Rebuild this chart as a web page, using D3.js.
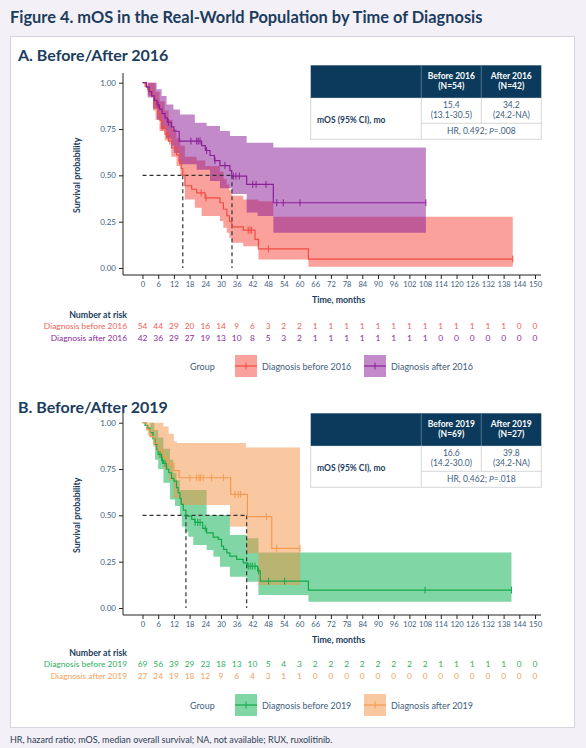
<!DOCTYPE html>
<html><head><meta charset="utf-8">
<script src="https://cdn.jsdelivr.net/npm/d3@7"></script>
<style>body{margin:0;background:#f4f0f7;}svg{display:block;font-family:Lato,"Noto Sans",sans-serif;}</style>
</head><body>
<svg id="c" width="586" height="748"></svg>
<script>
// ---------- DATA ----------
const timeTicks = d3.range(0, 151, 6);
const yTicks = [0, 0.25, 0.5, 0.75, 1];

// Panel A: before/after 2016
const before2016Steps = [[0,1],[1,0.981],[2,0.963],[3,0.944],[3.5,0.926],[4.5,0.889],[5,0.87],[6,0.833],[6.7,0.796],[7.5,0.759],[8.6,0.722],[9.9,0.685],[11.1,0.648],[13,0.611],[14,0.574],[14.8,0.537],[15.4,0.5],[16.2,0.444],[18.8,0.425],[20.7,0.405],[23.9,0.378],[29.6,0.352],[30.9,0.317],[32.2,0.282],[33.2,0.252],[34.1,0.222],[38.5,0.204],[43,0.155],[44.3,0.103],[63.4,0.048]];
const before2016End = 141.5;
const before2016Censor = [7.6, 9.2, 10.5, 22.4, 24.3, 40.4, 41.1, 41.7, 48.1, 141.5];
const before2016Upper = [[0,1],[5,0.95],[6.5,0.9],[8.5,0.85],[10,0.8],[11.5,0.75],[13,0.7],[14.5,0.66],[16.2,0.6],[20.7,0.58],[24,0.55],[29.6,0.52],[31,0.48],[32.2,0.45],[33.2,0.42],[34.1,0.39],[38.5,0.37],[44.3,0.36],[50,0.277]];
const before2016Lower = [[0,1],[2,0.93],[4,0.85],[5,0.8],[6.5,0.74],[8.5,0.69],[11,0.6],[13,0.55],[14.5,0.5],[16.2,0.37],[20,0.325],[22.6,0.28],[29.6,0.253],[30.9,0.217],[32.2,0.19],[33.2,0.163],[34.1,0.136],[38.5,0.118],[44.3,0.046],[63.4,0.007]];

const after2016Steps = [[0,1],[1.5,0.976],[2.5,0.952],[3.5,0.929],[4.5,0.905],[5.5,0.881],[6.5,0.857],[7.5,0.833],[8.6,0.81],[9.5,0.786],[11,0.762],[12,0.738],[14,0.685],[22.6,0.66],[24,0.634],[25.8,0.607],[27.5,0.58],[29.6,0.553],[33.4,0.525],[34.1,0.496],[39.8,0.451],[50,0.352]];
const after2016End = 108.3;
const after2016Censor = [6.0, 9.9, 18.5, 20.7, 21.3, 22.0, 24.5, 27.7, 31.5, 34.7, 35.7, 37.0, 42.1, 43.4, 47.2, 51.3, 53.8, 60.2, 108.3];
const after2016Upper = [[0,1],[5.4,0.964],[7.3,0.928],[9.2,0.883],[11.8,0.856],[14.3,0.829],[20,0.784],[24.5,0.766],[29.6,0.739],[33.4,0.712],[39.8,0.676],[50,0.65]];
const after2016Lower = [[0,1],[2,0.92],[4,0.86],[5.5,0.8],[7,0.75],[9,0.7],[11,0.66],[12,0.62],[14,0.56],[20.7,0.53],[25.8,0.47],[29.6,0.43],[34.1,0.4],[39.8,0.3],[44,0.28],[50,0.19]];

const riskBefore2016 = [54,44,29,20,16,14,9,6,3,2,2,1,1,1,1,1,1,1,1,1,1,1,1,1,0,0];
const riskAfter2016  = [42,36,29,27,19,13,10,8,5,3,2,1,1,1,1,1,1,1,1,0,0,0,0,0,0,0];
const mediansA = [15.4, 34.2];

// Panel B: before/after 2019
const before2019Steps = [[0,1],[1,0.986],[2,0.971],[2.9,0.946],[4,0.913],[4.8,0.883],[5.5,0.855],[6,0.829],[7.3,0.797],[8,0.78],[9.2,0.75],[10,0.73],[11.1,0.7],[12,0.685],[13,0.65],[13.6,0.622],[14.3,0.59],[14.8,0.559],[15.6,0.528],[16.6,0.496],[18.8,0.478],[20,0.462],[23,0.43],[24.5,0.405],[27,0.383],[29,0.37],[30.2,0.334],[31,0.316],[32.2,0.298],[33.4,0.28],[36,0.262],[38.5,0.244],[40,0.226],[44,0.2],[45,0.145],[63.4,0.097]];
const before2019End = 141;
const before2019Censor = [6.7, 7.6, 8.6, 20.1, 21.1, 22.0, 24.0, 40.4, 41.2, 42.0, 43.0, 44.4, 48.2, 54.3, 108, 141];
const before2019Upper = [[0,1],[4.5,0.96],[6,0.92],[8,0.86],[10.5,0.8],[11.8,0.73],[13,0.69],[14.3,0.637],[24.5,0.502],[33.4,0.394],[39.8,0.376],[44.3,0.3]];
const before2019Lower = [[0,1],[3,0.92],[4.8,0.8],[6,0.75],[8,0.676],[10.5,0.586],[12.4,0.55],[14.3,0.496],[15,0.44],[16.2,0.412],[17.5,0.385],[19.4,0.34],[24.5,0.313],[27.1,0.277],[29.6,0.223],[33.4,0.169],[39.8,0.142],[44.3,0.07],[63.4,0.034]];

const after2019Steps = [[0,1],[1.6,0.963],[2.9,0.926],[4.4,0.889],[6,0.852],[8,0.815],[9.5,0.778],[12,0.741],[14,0.703],[33.7,0.613],[40.1,0.493],[49.4,0.322]];
const after2019End = 60.2;
const after2019Censor = [9.9, 18.1, 20.7, 21.6, 22.2, 23.2, 26.4, 30.9, 35.3, 36.6, 37.5, 47.4, 51.3, 60.2];
const after2019Upper = [[0,1],[6,1],[8,0.98],[10,0.94],[12,0.9],[13.1,0.89],[39.5,0.866]];
const after2019Lower = [[0,1],[2,0.93],[4,0.87],[6,0.81],[8,0.75],[10,0.69],[11.8,0.592],[14.3,0.556],[33.4,0.439],[39.8,0.295],[44.3,0.124]];

const riskBefore2019 = [69,56,39,29,23,18,13,10,5,4,3,2,2,2,2,2,2,2,2,1,1,1,1,1,0,0];
const riskAfter2019  = [27,24,19,18,12,9,6,4,3,1,1,0,0,0,0,0,0,0,0,0,0,0,0,0,0,0];
const mediansB = [16.6, 39.8];

const tableA = {cols:["Before 2016","After 2016"], ns:["(N=54)","(N=42)"], med:["15.4","34.2"], ci:["(13.1-30.5)","(24.2-NA)"], hr:"0.492", p:".008"};
const tableB = {cols:["Before 2019","After 2019"], ns:["(N=69)","(N=27)"], med:["16.6","39.8"], ci:["(14.2-30.0)","(34.2-NA)"], hr:"0.462", p:".018"};

// ---------- DRAW ----------
const svg = d3.select("#c");
const NAVY = "#1b3d5d", TICK = "#41607e";

svg.append("text").attr("x",10).attr("y",23).attr("fill",NAVY).attr("font-weight",700).attr("font-size",16.4).text("Figure 4. mOS in the Real-World Population by Time of Diagnosis");
svg.append("rect").attr("x",10.5).attr("y",36.5).attr("width",564).attr("height",691).attr("fill","#fff").attr("stroke","#d5d3dc");
svg.append("text").attr("x",10).attr("y",743).attr("fill","#2c3f55").attr("font-size",9).text("HR, hazard ratio; mOS, median overall survival; NA, not available; RUX, ruxolitinib.");

function stepVal(steps, t){ let v = steps[0][1]; for (const [ti,s] of steps){ if (ti <= t) v = s; else break; } return v; }

function drawPanel(o){
  const g = svg.append("g");
  g.append("text").attr("x",18).attr("y",o.headY).attr("fill",NAVY).attr("font-weight",700).attr("font-size",16).text(o.heading);
  const x = d3.scaleLinear().domain([0,150]).range([142.5,535]);
  const y = d3.scaleLinear().domain([0,1]).range([o.y0, o.y0-185.3]);
  const axisY = o.y0 + 7;
  // bands
  o.groups.forEach(gr => {
    const ts = Array.from(new Set([...gr.upper.map(d=>d[0]), ...gr.lower.map(d=>d[0]), gr.end])).filter(t=>t<=gr.end).sort((a,b)=>a-b);
    const bd = ts.map(t => ({t, hi: stepVal(gr.upper,t), lo: stepVal(gr.lower,t)}));
    g.append("path").datum(bd).attr("fill", gr.band)
      .attr("d", d3.area().x(d=>x(d.t)).y0(d=>y(d.lo)).y1(d=>y(d.hi)).curve(d3.curveStepAfter));
  });
  // median lines
  const dash = g.append("g").attr("stroke","#333").attr("stroke-width",1.2).attr("stroke-dasharray","4,3").attr("fill","none");
  dash.append("line").attr("x1",x(0)).attr("x2",x(d3.max(o.medians))).attr("y1",y(0.5)).attr("y2",y(0.5));
  o.medians.forEach(m => dash.append("line").attr("x1",x(m)).attr("x2",x(m)).attr("y1",y(0.5)).attr("y2",y(0)));
  // lines + censors
  o.groups.forEach(gr => {
    const pts = gr.steps.concat([[gr.end, gr.steps[gr.steps.length-1][1]]]);
    g.append("path").datum(pts).attr("fill","none").attr("stroke",gr.line).attr("stroke-width",1.2)
      .attr("d", d3.line().x(d=>x(d[0])).y(d=>y(d[1])).curve(d3.curveStepAfter));
    g.selectAll(null).data(gr.censor).join("line").attr("stroke",gr.line).attr("stroke-width",1)
      .attr("x1",d=>x(d)).attr("x2",d=>x(d)).attr("y1",d=>y(stepVal(gr.steps,d))-3.5).attr("y2",d=>y(stepVal(gr.steps,d))+3.5);
  });
  // axes
  const xa = g.append("g").attr("transform",`translate(0,${axisY})`)
    .call(d3.axisBottom(x).tickValues(timeTicks).tickSize(4).tickPadding(3).tickFormat(d3.format("d")));
  xa.select(".domain").attr("d",`M123,0H541`).attr("stroke","#222");
  const ya = g.append("g").attr("transform",`translate(123,0)`)
    .call(d3.axisLeft(y).tickValues(yTicks).tickSize(4).tickPadding(3).tickFormat(d3.format(".2f")));
  ya.select(".domain").attr("d",`M0,${o.y0-195}V${axisY}`).attr("stroke","#222");
  [xa, ya].forEach(a => { a.selectAll("text").attr("fill",TICK).attr("font-size",8).attr("font-family","Lato, sans-serif"); a.selectAll(".tick line").attr("stroke","#222"); });
  xa.selectAll("text").attr("font-size",7.6);
  g.append("text").attr("x",338.5).attr("y",axisY+28).attr("text-anchor","middle").attr("fill",NAVY).attr("font-weight",700).attr("font-size",8.8).text("Time, months");
  g.append("text").attr("transform",`translate(80,${y(0.5)}) rotate(-90)`).attr("text-anchor","middle").attr("fill",NAVY).attr("font-weight",700).attr("font-size",8.8).text("Survival probability");
  // risk table
  g.append("text").attr("x",127).attr("y",o.riskY).attr("text-anchor","end").attr("fill",NAVY).attr("font-weight",700).attr("font-size",8.8).text("Number at risk");
  o.groups.forEach((gr,i) => {
    const ry = o.riskY + 11.3*(i+1);
    g.append("text").attr("x",127).attr("y",ry).attr("text-anchor","end").attr("fill",gr.text).attr("font-size",8.4).text(gr.name);
    g.selectAll(null).data(gr.risk).join("text").attr("x",(d,j)=>x(timeTicks[j])).attr("y",ry).attr("text-anchor","middle").attr("fill",gr.text).attr("font-size",8.4).text(d=>d);
  });
  // legend
  const ly = o.legY;
  g.append("text").attr("x",190).attr("y",ly+3.5).attr("fill",TICK).attr("font-size",9).text("Group");
  const keyX = [235, 364];
  o.groups.forEach((gr,i) => {
    const kx = keyX[i];
    g.append("rect").attr("x",kx).attr("y",ly-11).attr("width",22).attr("height",22).attr("fill",gr.band);
    g.append("line").attr("x1",kx).attr("x2",kx+22).attr("y1",ly).attr("y2",ly).attr("stroke",gr.line).attr("stroke-width",1.2);
    g.append("line").attr("x1",kx+11).attr("x2",kx+11).attr("y1",ly-3.5).attr("y2",ly+3.5).attr("stroke",gr.line).attr("stroke-width",1);
    g.append("text").attr("x",kx+27).attr("y",ly+3.5).attr("fill",TICK).attr("font-size",9).text(gr.name);
  });
  // stats table
  const T = o.table, ty = o.tableY;
  const c0 = 310.7, c1 = 421.3, c2 = 481.3, c3 = 541.3, hh = 32.5, bh = 41.5;
  const tb = g.append("g");
  tb.append("rect").attr("x",c0).attr("y",ty+hh).attr("width",c3-c0).attr("height",bh).attr("fill","#fff").attr("stroke","#d8d8d8");
  tb.append("rect").attr("x",c0).attr("y",ty).attr("width",c3-c0).attr("height",hh).attr("fill","#0b3a5c");
  [c1,c2].forEach(cx => tb.append("line").attr("x1",cx).attr("x2",cx).attr("y1",ty).attr("y2",ty+hh).attr("stroke","#5d7d96").attr("stroke-width",0.8));
  tb.append("line").attr("x1",c1).attr("x2",c1).attr("y1",ty+hh).attr("y2",ty+hh+bh).attr("stroke","#d8d8d8");
  tb.append("line").attr("x1",c2).attr("x2",c2).attr("y1",ty+hh).attr("y2",ty+hh+25.5).attr("stroke","#d8d8d8");
  tb.append("line").attr("x1",c1).attr("x2",c3).attr("y1",ty+hh+25.5).attr("y2",ty+hh+25.5).attr("stroke","#d8d8d8");
  [ (c1+c2)/2, (c2+c3)/2 ].forEach((cx,i) => {
    tb.append("text").attr("x",cx).attr("y",ty+14).attr("text-anchor","middle").attr("fill","#fff").attr("font-weight",700).attr("font-size",8.5).text(T.cols[i]);
    tb.append("text").attr("x",cx).attr("y",ty+24).attr("text-anchor","middle").attr("fill","#fff").attr("font-weight",700).attr("font-size",8.5).text(T.ns[i]);
    tb.append("text").attr("x",cx).attr("y",ty+hh+10.5).attr("text-anchor","middle").attr("fill",TICK).attr("font-size",8.5).text(T.med[i]);
    tb.append("text").attr("x",cx).attr("y",ty+hh+20.5).attr("text-anchor","middle").attr("fill",TICK).attr("font-size",8.5).text(T.ci[i]);
  });
  const hr = tb.append("text").attr("x",(c1+c3)/2).attr("y",ty+hh+36.5).attr("text-anchor","middle").attr("fill",TICK).attr("font-size",8.5);
  hr.append("tspan").text(`HR, ${T.hr}; `);
  hr.append("tspan").attr("font-style","italic").text("P");
  hr.append("tspan").text(`=${T.p}`);
  tb.append("text").attr("x",317).attr("y",ty+hh+25).attr("fill",NAVY).attr("font-weight",700).attr("font-size",8.5).text("mOS (95% CI), mo");
}

drawPanel({
  heading:"A. Before/After 2016", headY:61, y0:268, riskY:318, legY:366, tableY:65.3, medians:mediansA, table:tableA,
  groups:[
    {name:"Diagnosis before 2016", steps:before2016Steps, end:before2016End, censor:before2016Censor, upper:before2016Upper, lower:before2016Lower, risk:riskBefore2016, line:"#f04e45", band:"rgba(243,67,53,0.5)", text:"#f0625a"},
    {name:"Diagnosis after 2016", steps:after2016Steps, end:after2016End, censor:after2016Censor, upper:after2016Upper, lower:after2016Lower, risk:riskAfter2016, line:"#8a1f9a", band:"rgba(135,21,147,0.5)", text:"#8a2a9a"}
  ]
});
drawPanel({
  heading:"B. Before/After 2019", headY:413, y0:608, riskY:656, legY:705, tableY:413.3, medians:mediansB, table:tableB,
  groups:[
    {name:"Diagnosis before 2019", steps:before2019Steps, end:before2019End, censor:before2019Censor, upper:before2019Upper, lower:before2019Lower, risk:riskBefore2019, line:"#14a94c", band:"rgba(1,173,73,0.5)", text:"#2eb060"},
    {name:"Diagnosis after 2019", steps:after2019Steps, end:after2019End, censor:after2019Censor, upper:after2019Upper, lower:after2019Lower, risk:riskAfter2019, line:"#f39a4f", band:"rgba(243,145,65,0.5)", text:"#f2a060"}
  ]
});
</script>
</body></html>
